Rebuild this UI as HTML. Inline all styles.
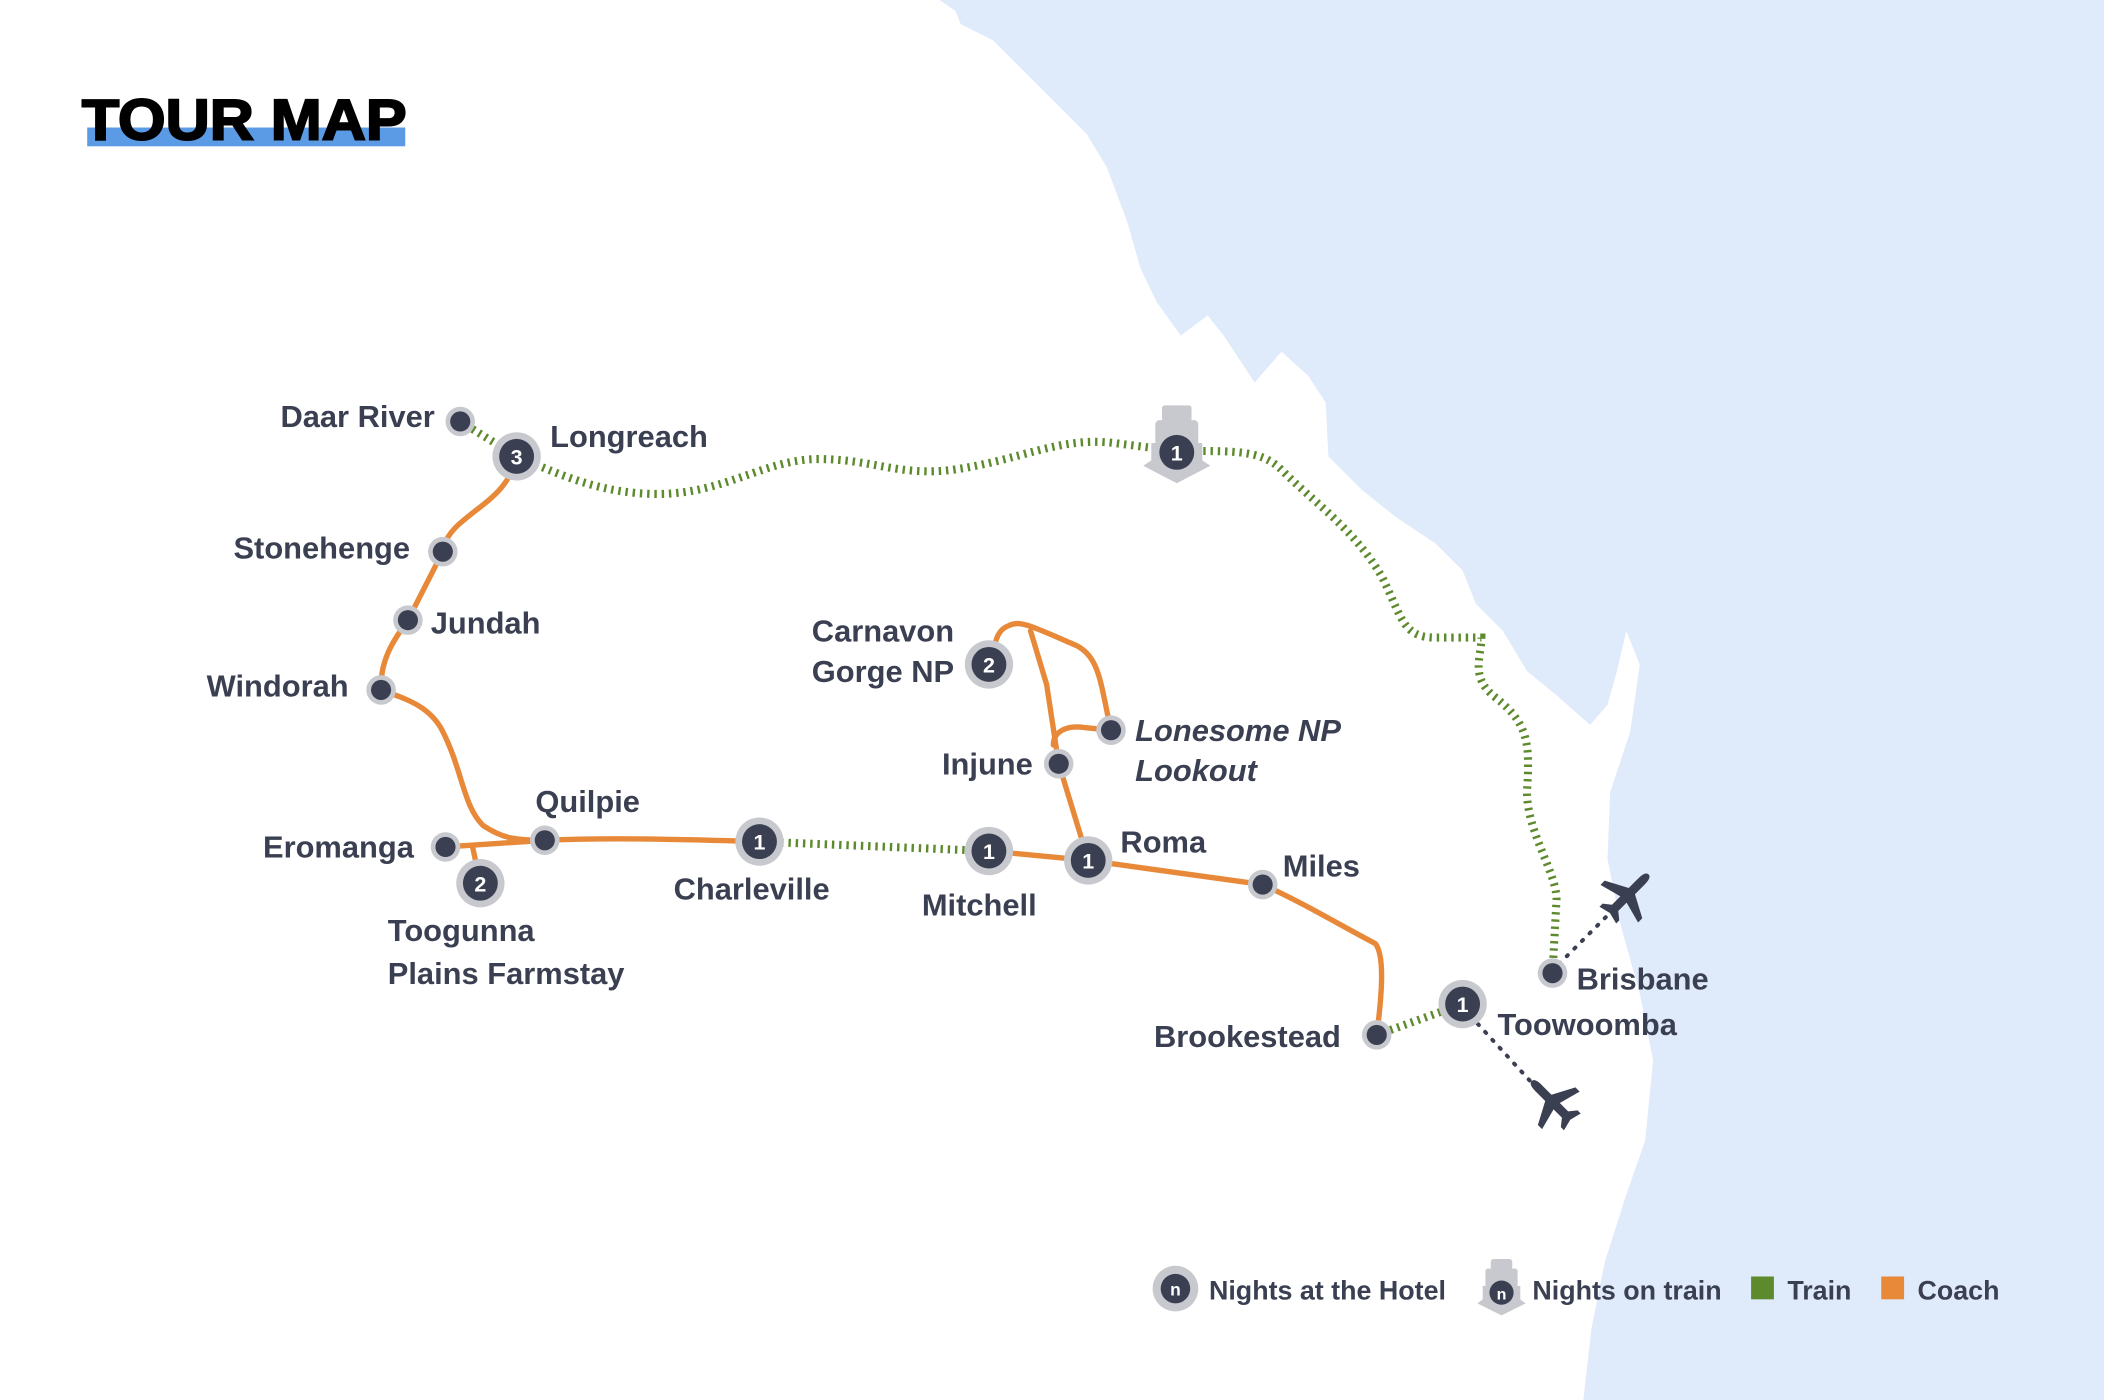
<!DOCTYPE html>
<html><head><meta charset="utf-8"><style>
html,body{margin:0;padding:0;background:#fff;}
svg{display:block;}
text{font-family:"Liberation Sans",sans-serif;font-weight:bold;fill:#3a3f52;}
</style></head><body>
<svg width="2104" height="1400" viewBox="0 0 1568 1043" preserveAspectRatio="none" xmlns="http://www.w3.org/2000/svg">
<rect width="1568" height="1043" fill="#fff"/>
<path fill="#dfeafa" d="M700,0 L712,8 L716,18 L740,30 L760,50 L790,80 L810,100 L825,125 L840,165 L850,200 L862,225 L880,250 L900,235 L912,250 L935,285 L955,262 L975,280 L988,300 L990,340 L1015,365 L1040,385 L1070,405 L1090,425 L1100,450 L1120,470 L1138,500 L1160,518 L1185,540 L1198,525 L1205,500 L1212,470 L1222,495 L1215,545 L1200,590 L1198,640 L1208,690 L1222,740 L1232,790 L1226,850 L1212,890 L1196,940 L1186,990 L1180,1043 L1568,1043 L1568,0 Z"/>
<!-- title -->
<rect x="65" y="95" width="237" height="14" fill="#5b9be6"/>
<text x="61" y="104" textLength="242" lengthAdjust="spacingAndGlyphs" style="font-size:43px;font-weight:900;fill:#000;stroke:#000;stroke-width:1.5">TOUR MAP</text>
<!-- train routes -->
<g fill="none" stroke="#5e8a2e" stroke-width="6" stroke-dasharray="1.8 3.6">
<path d="M343,314 L385,340 C420,355 450,368 490,368 C540,368 570,342 610,342 C650,342 670,355 710,350 C760,343 790,325 830,330 L877,336 C920,336 940,335 955,350 C980,375 1010,395 1030,430 C1045,460 1045,475 1070,475 L1104,475 C1104,490 1095,505 1115,520 C1140,540 1140,555 1138,590 C1138,620 1160,650 1160,670 L1157,725"/>
<path d="M566,627 L737,634"/>
<path d="M1026,771 L1090,748"/>
</g>
<!-- flight dotted -->
<g fill="none" stroke="#3a3f52" stroke-width="3" stroke-dasharray="1 7" stroke-linecap="round">
<path d="M1162,718 L1205,675"/>
<path d="M1096,757 L1140,805"/>
</g>
<!-- coach routes -->
<g fill="none" stroke="#e8893a" stroke-width="4" stroke-linejoin="round" stroke-linecap="round">
<path d="M385,340 C380,365 360,375 345,388 C335,396 330,405 330,411 L304,462 C295,475 283,490 284,514 C300,520 320,525 330,545 C345,575 345,600 360,615 C375,625 385,626 406,626 C450,624 500,625 566,627"/>
<path d="M332,631 L406,626"/>
<path d="M352,630 L358,658"/>
<path d="M737,634 L811,641 L941,659 C970,672 1000,690 1025,703 C1032,712 1030,740 1026,771"/>
<path d="M811,641 L789,569 L780,510 L768,470"/>
<path d="M737,495 C742,485 740,470 752,466 C760,462 768,466 800,480 C820,488 820,510 828,544"/>
<path d="M785,555 C785,545 795,540 808,542 L828,544"/>
</g>
<!-- train icon -->
<g fill="#c8c9ce">
<rect x="866" y="302" width="22" height="12" rx="2"/>
<rect x="861" y="313" width="32" height="20" rx="3"/>
<path d="M858,330 L896,330 L896,343 L902,347 L877,360 L852,347 L858,343 Z"/>
</g>
<!-- small nodes -->
<g>
<g fill="#c8c9ce">
<circle cx="343" cy="314" r="11"/><circle cx="330" cy="411" r="11"/><circle cx="304" cy="462" r="11"/><circle cx="284" cy="514" r="11"/><circle cx="332" cy="631" r="11"/><circle cx="406" cy="626" r="11"/><circle cx="789" cy="569" r="11"/><circle cx="828" cy="544" r="11"/><circle cx="941" cy="659" r="11"/><circle cx="1026" cy="771" r="11"/><circle cx="1157" cy="725" r="11"/>
</g>
<g fill="#3a3f52">
<circle cx="343" cy="314" r="7.5"/><circle cx="330" cy="411" r="7.5"/><circle cx="304" cy="462" r="7.5"/><circle cx="284" cy="514" r="7.5"/><circle cx="332" cy="631" r="7.5"/><circle cx="406" cy="626" r="7.5"/><circle cx="789" cy="569" r="7.5"/><circle cx="828" cy="544" r="7.5"/><circle cx="941" cy="659" r="7.5"/><circle cx="1026" cy="771" r="7.5"/><circle cx="1157" cy="725" r="7.5"/>
</g>
</g>
<!-- hotel nodes -->
<g>
<g fill="#c8c9ce">
<circle cx="385" cy="340" r="18"/><circle cx="358" cy="658" r="18"/><circle cx="566" cy="627" r="18"/><circle cx="737" cy="634" r="18"/><circle cx="811" cy="641" r="18"/><circle cx="737" cy="495" r="18"/><circle cx="1090" cy="748" r="18"/>
</g>
<g fill="#3a3f52">
<circle cx="385" cy="340" r="13"/><circle cx="358" cy="658" r="13"/><circle cx="566" cy="627" r="13"/><circle cx="737" cy="634" r="13"/><circle cx="811" cy="641" r="13"/><circle cx="737" cy="495" r="13"/><circle cx="1090" cy="748" r="13"/><circle cx="877" cy="337" r="13"/>
</g>
<g style="font-size:16px" text-anchor="middle">
<text x="385" y="346" style="fill:#fff">3</text><text x="358" y="664" style="fill:#fff">2</text><text x="566" y="633" style="fill:#fff">1</text><text x="737" y="640" style="fill:#fff">1</text><text x="811" y="647" style="fill:#fff">1</text><text x="737" y="501" style="fill:#fff">2</text><text x="1090" y="754" style="fill:#fff">1</text><text x="877" y="343" style="fill:#fff">1</text>
</g>
</g>
<!-- planes -->
<g fill="#3a3f52">
<path transform="translate(1213,667) rotate(45) scale(1.1)" d="M0,-20 C3,-20 3,-15 3,-12 L3,-4 L18,4 L18,8 L3,4 L3,12 L8,16 L8,19 L0,17 L-8,19 L-8,16 L-3,12 L-3,4 L-18,8 L-18,4 L-3,-4 L-3,-12 C-3,-15 -3,-20 0,-20Z"/>
<path transform="translate(1157,821) rotate(-45) scale(1.1)" d="M0,-20 C3,-20 3,-15 3,-12 L3,-4 L18,4 L18,8 L3,4 L3,12 L8,16 L8,19 L0,17 L-8,19 L-8,16 L-3,12 L-3,4 L-18,8 L-18,4 L-3,-4 L-3,-12 C-3,-15 -3,-20 0,-20Z"/>
</g>
<!-- labels -->
<g style="font-size:23px">
<text x="209" y="318">Daar River</text>
<text x="410" y="333">Longreach</text>
<text x="174" y="416">Stonehenge</text>
<text x="321" y="472">Jundah</text>
<text x="154" y="519">Windorah</text>
<text x="399" y="605">Quilpie</text>
<text x="196" y="639">Eromanga</text>
<text x="289" y="701">Toogunna</text>
<text x="289" y="733">Plains Farmstay</text>
<text x="502" y="670">Charleville</text>
<text x="687" y="682">Mitchell</text>
<text x="835" y="635">Roma</text>
<text x="956" y="653">Miles</text>
<text x="860" y="780">Brookestead</text>
<text x="1116" y="771">Toowoomba</text>
<text x="1175" y="737">Brisbane</text>
<text x="605" y="478">Carnavon</text>
<text x="605" y="508">Gorge NP</text>
<text x="702" y="577">Injune</text>
<text x="846" y="552" style="font-style:italic">Lonesome NP</text>
<text x="846" y="582" style="font-style:italic">Lookout</text>
</g>
<!-- legend -->
<circle cx="876" cy="960" r="17" fill="#c8c9ce"/>
<circle cx="876" cy="960" r="11" fill="#3a3f52"/>
<text x="876" y="965" text-anchor="middle" style="font-size:13px;fill:#fff">n</text>
<text x="901" y="968" style="font-size:20px">Nights at the Hotel</text>
<g fill="#c8c9ce">
<rect x="1111" y="938" width="16" height="8" rx="2"/>
<rect x="1107" y="945" width="24" height="14" rx="2"/>
<path d="M1105,958 L1133,958 L1133,968 L1137,971 L1119,980 L1101,971 L1105,968 Z"/>
</g>
<circle cx="1119" cy="963" r="9" fill="#3a3f52"/>
<text x="1119" y="968" text-anchor="middle" style="font-size:12px;fill:#fff">n</text>
<text x="1142" y="968" style="font-size:20px">Nights on train</text>
<rect x="1305" y="951" width="17" height="17" fill="#5e8a2e"/>
<text x="1332" y="968" style="font-size:20px">Train</text>
<rect x="1402" y="951" width="17" height="17" fill="#e8893a"/>
<text x="1429" y="968" style="font-size:20px">Coach</text>
</svg>
</body></html>
